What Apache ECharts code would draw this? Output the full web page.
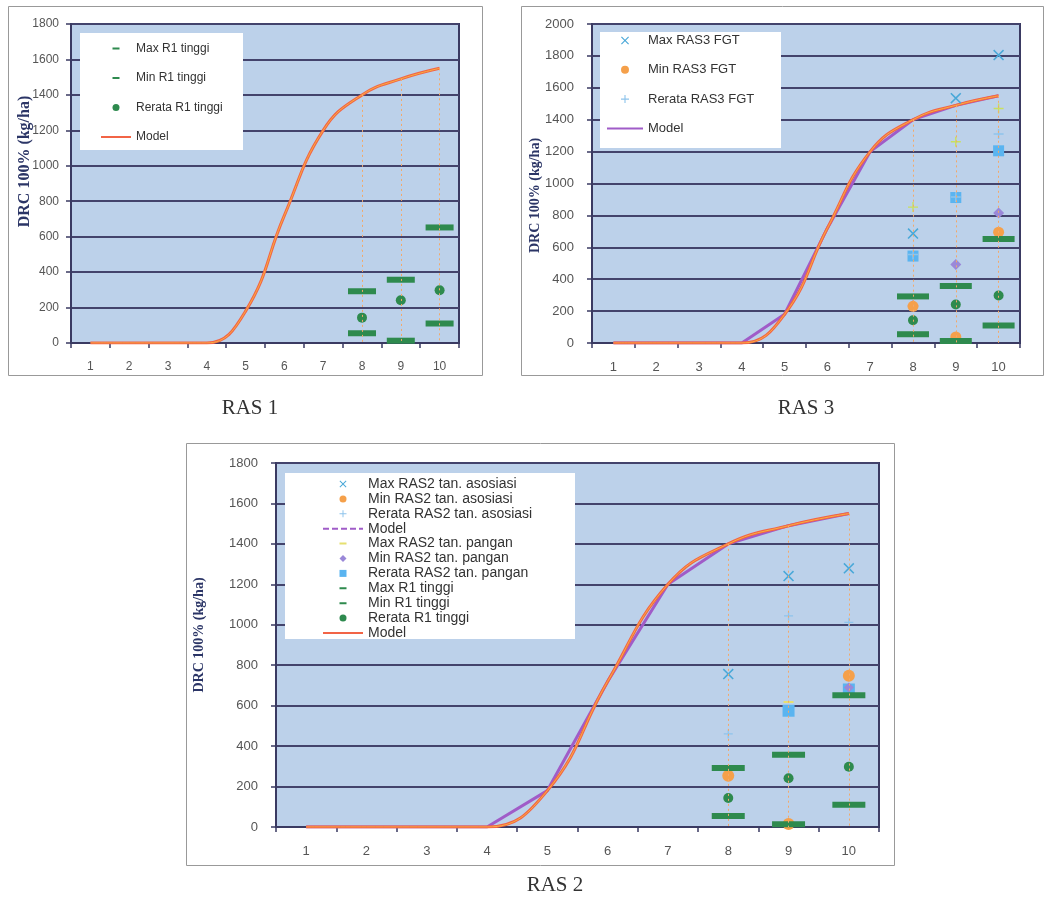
<!DOCTYPE html>
<html><head><meta charset="utf-8">
<script src="https://cdn.jsdelivr.net/npm/echarts@6/dist/echarts.min.js"></script>
<style>html,body{margin:0;padding:0;background:#fff}#c{width:1051px;height:904px}</style>
</head><body><div id="c"></div>
<script>
// ---------- data ----------
const categories = ['1','2','3','4','5','6','7','8','9','10'];
const obsCategories = ['8','9','10'];
const modelValues = [0,0,0,0,180,720,1200,1400,1490,1550];
const dropIndex = [7,8,9];
const yMaxRas1 = 1800, yMaxRas3 = 2000, yMaxRas2 = 1800, yStep = 200;
// R1 tinggi (shown in all three panels)
const r1Max = [292,357,652];
const r1Min = [55,13,110];
const r1Mean = [143,241,298];
// RAS3 FGT
const fgtMax = [686,1535,1805];
const fgtMin = [230,38,695];
const fgtMean = [555,915,1310];
const ras3ExtraMax = [852,1262,1470];
const ras3ExtraMin = [235,492,815];
const ras3ExtraMean = [545,912,1205];
// RAS2
const asoMax = [756,1241,1279];
const asoMin = [254,15,748];
const asoMean = [460,1044,1012];
const panganMax = [null,618,null];
const panganMin = [null,null,690];
const panganMean = [null,575,680];

// ---------- styles ----------
const C = {
  bg:'#bcd1ea', grid:'#43436c', axis:'#3a3a62', green:'#2e8a4e', orange:'#f5a04a',
  blueX:'#4aa8d8', lightPlus:'#8ec4ec', purple:'#a05cc8', model:'#f26446', modelHl:'#f8b040',
  yellow:'#e6e070', diamond:'#9a88d8', square:'#5ab4f0', ygPlus:'#c8e060'
};
const SYM_X = 'path://M0,1L1,0L5,4L9,0L10,1L6,5L10,9L9,10L5,6L1,10L0,9L4,5Z';
const SYM_PLUS = 'path://M4.3,0L5.7,0L5.7,4.3L10,4.3L10,5.7L5.7,5.7L5.7,10L4.3,10L4.3,5.7L0,5.7L0,4.3L4.3,4.3Z';
const SYM_DASH = 'path://M0,0L10,0L10,2L0,2Z';
const ICON_DIAMOND = 'path://M5,0L10,5L5,10L0,5Z';
const ICON_SQUARE = 'path://M0,0L10,0L10,10L0,10Z';
function dashIcon(W,H){
  return `path://M0,0L0.01,0M${W},${H}L${W-0.01},${H}M${W/2-3.5},${H/2-1}L${W/2+3.5},${H/2-1}L${W/2+3.5},${H/2+1}L${W/2-3.5},${H/2+1}Z`;
}
function pts(arr){ return obsCategories.map((c,i)=>[c, arr[i]]); }

function scatter(gi, name, arr, symbol, size, color, z){
  return {type:'scatter', name, xAxisIndex:gi, yAxisIndex:gi, data:pts(arr), symbol, symbolSize:size,
    itemStyle:{color, opacity:1}, z:z||3, silent:true};
}
function modelLine(gi, name, color, width, smooth, z, drop){
  const s = {type:'line', name, xAxisIndex:gi, yAxisIndex:gi, data:modelValues, symbol:'none',
    smooth: smooth, lineStyle:{color, width}, itemStyle:{color}, z, silent:true};
  if (drop) {
    s.markLine = {silent:true, symbol:['none','none'], label:{show:false},
      lineStyle:{color:'#f3a868', type:[2,3], width:1},
      data: dropIndex.map(i => [{coord:[i, modelValues[i]]},{coord:[i, 0]}])};
  }
  return s;
}
function r1Series(gi, w){
  return [
    scatter(gi,'Max R1 tinggi', r1Max,'rect',[w,6],C.green,4),
    scatter(gi,'Min R1 tinggi', r1Min,'rect',[w,6],C.green,4),
    scatter(gi,'Rerata R1 tinggi', r1Mean,'circle',10,C.green,4)
  ];
}

const grids = [
  {left:71, top:24, width:388, height:319},
  {left:592, top:24, width:428, height:319},
  {left:276, top:463, width:603, height:364}
].map(g => Object.assign({show:true, backgroundColor:C.bg, borderColor:C.axis, borderWidth:2}, g));

function xAx(gi, fs){
  return {type:'category', gridIndex:gi, data:categories, boundaryGap:true,
    axisLine:{lineStyle:{color:C.axis, width:2}},
    axisTick:{show:true, length:5, lineStyle:{color:C.axis, width:1.5}},
    axisLabel:{margin:18, color:'#555', fontSize:fs, fontFamily:'Liberation Sans'},
    splitLine:{show:false}};
}
function yAx(gi, max, fs, margin, gap, nfs, npad){
  return {type:'value', gridIndex:gi, min:0, max, interval:yStep,
    axisLine:{show:true, lineStyle:{color:C.axis, width:2}},
    axisTick:{show:true, length:5, lineStyle:{color:C.axis, width:1.5}},
    axisLabel:{margin, color:'#555', fontSize:fs, fontFamily:'Liberation Sans', formatter: v => String(v)},
    splitLine:{show:true, lineStyle:{color:C.grid, width:2}},
    name:'DRC 100% (kg/ha)', nameLocation:'middle', nameGap:gap, nameMoveOverlap:false,
    nameTextStyle:{fontWeight:'bold', fontSize:nfs, fontFamily:'Liberation Serif', color:'#2b3566', padding:npad}};
}

const series = [
  // RAS 1
  modelLine(0,'Model',C.model,3,0.45,2,true),
  modelLine(0,'_hl1',C.modelHl,1,0.45,2,false),
  ...r1Series(0,28),
  // RAS 3
  modelLine(1,'Model ',C.purple,3,false,2,false),
  modelLine(1,'Model',C.model,3,0.45,2,true),
  modelLine(1,'_hl3',C.modelHl,1,0.45,2,false),
  scatter(1,'_ras3max', ras3ExtraMax, SYM_PLUS, 10, C.ygPlus, 3),
  scatter(1,'_ras3mean', ras3ExtraMean, 'rect', 11, C.square, 3),
  scatter(1,'_ras3min', ras3ExtraMin, 'diamond', 11, C.diamond, 3),
  scatter(1,'Max RAS3 FGT', fgtMax, SYM_X, 11, C.blueX, 3),
  scatter(1,'Min RAS3 FGT', fgtMin, 'circle', 11, C.orange, 3),
  scatter(1,'Rerata RAS3 FGT', fgtMean, SYM_PLUS, 10, C.lightPlus, 3),
  ...r1Series(1,32),
  // RAS 2
  modelLine(2,'Model ',C.purple,3,false,2,false),
  modelLine(2,'Model',C.model,3,0.45,2,true),
  modelLine(2,'_hl2',C.modelHl,1,0.45,2,false),
  scatter(2,'Max RAS2 tan. asosiasi', asoMax, SYM_X, 11, C.blueX, 3),
  scatter(2,'Rerata RAS2 tan. pangan', panganMean, 'rect', 12, C.square, 3),
  scatter(2,'Min RAS2 tan. pangan', panganMin, 'diamond', 10, C.diamond, 3),
  scatter(2,'Max RAS2 tan. pangan', panganMax, SYM_DASH, [10,2], C.yellow, 3),
  scatter(2,'Min RAS2 tan. asosiasi', asoMin, 'circle', 12, C.orange, 3),
  scatter(2,'Rerata RAS2 tan. asosiasi', asoMean, SYM_PLUS, 9, C.lightPlus, 3),
  ...r1Series(2,33)
];

function legend(left, top, W, H, fs, lh, gap, data){
  return {left, top, orient:'vertical', itemWidth:W, itemHeight:H, itemGap:gap, selectedMode:false, padding:0,
    textStyle:{fontSize:fs, lineHeight:lh, color:'#333', fontFamily:'Liberation Sans'},
    z:11, data};
}
const noSym = {opacity:0};
const legends = [
  legend(100, 42, 30, 7, 12, 13, 16.5, [
    {name:'Max R1 tinggi', icon:dashIcon(30,7)},
    {name:'Min R1 tinggi', icon:dashIcon(30,7)},
    {name:'Rerata R1 tinggi', icon:'circle'},
    {name:'Model', itemStyle:noSym}
  ]),
  legend(606, 34, 36, 8, 13, 13, 16.3, [
    {name:'Max RAS3 FGT', icon:SYM_X},
    {name:'Min RAS3 FGT', icon:'circle'},
    {name:'Rerata RAS3 FGT', icon:SYM_PLUS},
    {name:'Model ', itemStyle:noSym}
  ]),
  legend(322, 477, 40, 7, 14, 13, 0.9, [
    {name:'Max RAS2 tan. asosiasi', icon:SYM_X},
    {name:'Min RAS2 tan. asosiasi', icon:'circle'},
    {name:'Rerata RAS2 tan. asosiasi', icon:SYM_PLUS},
    {name:'Model ', itemStyle:noSym, lineStyle:{type:[6,3]}},
    {name:'Max RAS2 tan. pangan', icon:dashIcon(40,7)},
    {name:'Min RAS2 tan. pangan', icon:ICON_DIAMOND},
    {name:'Rerata RAS2 tan. pangan', icon:ICON_SQUARE},
    {name:'Max R1 tinggi', icon:dashIcon(40,7)},
    {name:'Min R1 tinggi', icon:dashIcon(40,7)},
    {name:'Rerata R1 tinggi', icon:'circle'},
    {name:'Model', itemStyle:noSym}
  ])
];

const titleFont = '21px "Liberation Serif"';
const graphic = [
  {type:'rect', z:0, shape:{x:8.5,y:6.5,width:474,height:369}, style:{fill:'none', stroke:'#999', lineWidth:1}},
  {type:'rect', z:0, shape:{x:521.5,y:6.5,width:522,height:369}, style:{fill:'none', stroke:'#999', lineWidth:1}},
  {type:'rect', z:0, shape:{x:186.5,y:443.5,width:708,height:422}, style:{fill:'none', stroke:'#999', lineWidth:1}},
  {type:'rect', z:10, shape:{x:80,y:33,width:163,height:117}, style:{fill:'#fff'}},
  {type:'rect', z:10, shape:{x:600,y:32,width:181,height:116}, style:{fill:'#fff'}},
  {type:'rect', z:10, shape:{x:285,y:473,width:290,height:166}, style:{fill:'#fff'}},
  {type:'text', z:10, x:250, y:408, style:{text:'RAS 1', font:titleFont, fill:'#333', align:'center', verticalAlign:'middle'}},
  {type:'text', z:10, x:806, y:408, style:{text:'RAS 3', font:titleFont, fill:'#333', align:'center', verticalAlign:'middle'}},
  {type:'text', z:10, x:555, y:885, style:{text:'RAS 2', font:titleFont, fill:'#333', align:'center', verticalAlign:'middle'}}
];

const chart = echarts.init(document.getElementById('c'));
chart.setOption({
  animation:false,
  backgroundColor:'#fff',
  grid: grids,
  xAxis: [xAx(0,12), xAx(1,13), xAx(2,13)],
  yAxis: [yAx(0,yMaxRas1,12,12,38,16,[0,0,0,44]), yAx(1,yMaxRas3,13,18,50,14,[0,24,0,0]), yAx(2,yMaxRas2,13,18,70,14,[0,0,0,20])],
  legend: legends,
  graphic,
  series
});
</script></body></html>
